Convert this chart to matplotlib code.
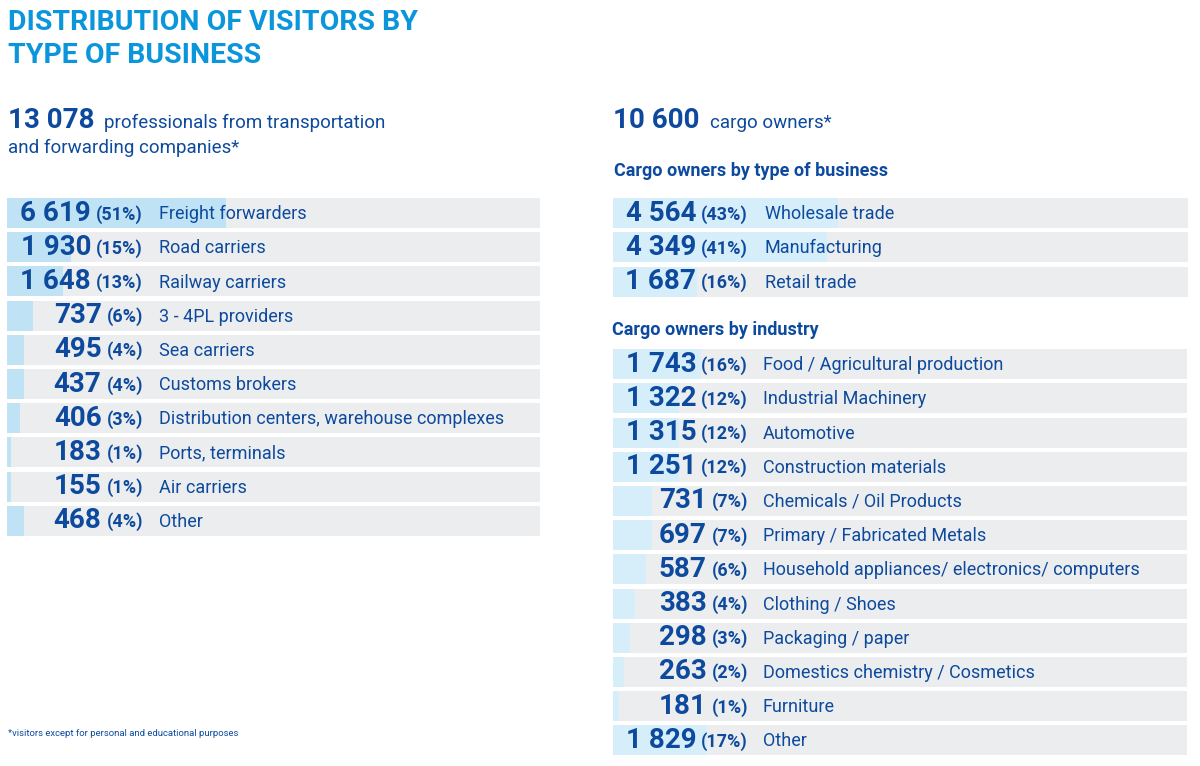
import matplotlib
matplotlib.use("Agg")
import matplotlib.pyplot as plt
from matplotlib.transforms import Affine2D, blended_transform_factory

plt.rcParams['font.family'] = ['Roboto', 'DejaVu Sans']

W, H = 1200, 766

# data
left_total = "13 078"
left_values = [6619, 1930, 1648, 737, 495, 437, 406, 183, 155, 468]
left_pct = [51, 15, 13, 6, 4, 4, 3, 1, 1, 4]
left_labels = ["Freight forwarders", "Road carriers", "Railway carriers",
               "3 - 4PL providers", "Sea carriers", "Customs brokers",
               "Distribution centers, warehouse complexes", "Ports, terminals",
               "Air carriers", "Other"]

right_total = "10 600"
type_values = [4564, 4349, 1687]
type_pct = [43, 41, 16]
type_labels = ["Wholesale trade", "Manufacturing", "Retail trade"]

ind_values = [1743, 1322, 1315, 1251, 731, 697, 587, 383, 298, 263, 181, 1829]
ind_pct = [16, 12, 12, 12, 7, 7, 6, 4, 3, 2, 1, 17]
ind_labels = ["Food / Agricultural production", "Industrial Machinery", "Automotive",
              "Construction materials", "Chemicals / Oil Products",
              "Primary / Fabricated Metals",
              "Household appliances/ electronics/ computers", "Clothing / Shoes",
              "Packaging / paper", "Domestics chemistry / Cosmetics", "Furniture",
              "Other"]

TITLE_C = "#0b96dc"
DARK = "#0d4a9e"
TRACK = "#ecedee"
PITCH = 34.2

fig = plt.figure(figsize=(W / 100, H / 100), dpi=100)
fig.patch.set_facecolor("white")
# pixel coords measured from the top-left corner
px = Affine2D().scale(1 / W, -1 / H).translate(0, 1) + fig.transFigure
renderer = fig.canvas.get_renderer()


def fmt(v):
    return "{:,}".format(v).replace(",", " ")


def panel(x0, x1, top, values, pct, labels, xmax, bar_c, pct_x, lab_x):
    n = len(values)
    ax = fig.add_axes([x0 / W, 1 - (top + n * PITCH) / H, (x1 - x0) / W, n * PITCH / H])
    ax.set_xlim(0, xmax)
    ax.set_ylim(n - 0.5, -0.5)
    ax.axis("off")
    rows = list(range(n))
    ax.barh(rows, [xmax] * n, height=30 / PITCH, color=TRACK)
    ax.barh(rows, pct, height=30 / PITCH, color=bar_c)
    tr = blended_transform_factory(px, ax.transData)
    for i in rows:
        t = ax.text(pct_x, i + 0.03, "(%d%%)" % pct[i], transform=tr, ha="right",
                    va="center", fontsize=13, color=DARK, fontweight="semibold")
        # the number ends just left of the percent
        left_edge = t.get_window_extent(renderer).x0
        ax.text(left_edge - 5, i, fmt(values[i]), transform=tr, ha="right", va="center",
                fontsize=20, fontweight="bold", color=DARK)
        ax.text(lab_x, i + 0.03, labels[i], transform=tr, ha="left", va="center",
                fontsize=13, color=DARK)
    return ax


# title
fig.text(8, 30, "DISTRIBUTION OF VISITORS BY", transform=px, ha="left", va="baseline",
         fontsize=20.5, fontweight="bold", color=TITLE_C)
fig.text(8, 63, "TYPE OF BUSINESS", transform=px, ha="left", va="baseline",
         fontsize=20.5, fontweight="bold", color=TITLE_C)

# left header
fig.text(8, 128, left_total, transform=px, fontsize=20, fontweight="bold", color=DARK,
         ha="left", va="baseline")
fig.text(104, 128, "professionals from transportation", transform=px, fontsize=13.5,
         color=DARK, ha="left", va="baseline")
fig.text(8, 153, "and forwarding companies*", transform=px, fontsize=13.5,
         color=DARK, ha="left", va="baseline")

# right header
fig.text(613, 128, right_total, transform=px, fontsize=20, fontweight="bold", color=DARK,
         ha="left", va="baseline")
fig.text(710, 128, "cargo owners*", transform=px, fontsize=13.5,
         color=DARK, ha="left", va="baseline")
fig.text(614, 176, "Cargo owners by type of business", transform=px, fontsize=13,
         fontweight="bold", color=DARK, ha="left", va="baseline")
fig.text(612, 335, "Cargo owners by industry", transform=px, fontsize=13,
         fontweight="bold", color=DARK, ha="left", va="baseline")

panel(7, 540, 196, left_values, left_pct, left_labels, 124, "#bfe3f5", 143, 159)
panel(613, 1188, 196, type_values, type_pct, type_labels, 110, "#d6eefa", 748, 765)
panel(613, 1187, 347, ind_values, ind_pct, ind_labels, 104, "#d6eefa", 748, 763)

fig.text(8, 736, "*visitors except for personal and educational purposes", transform=px,
         fontsize=6.8, color=DARK, ha="left", va="baseline")

fig.savefig("out.png", dpi=100, facecolor="white")
